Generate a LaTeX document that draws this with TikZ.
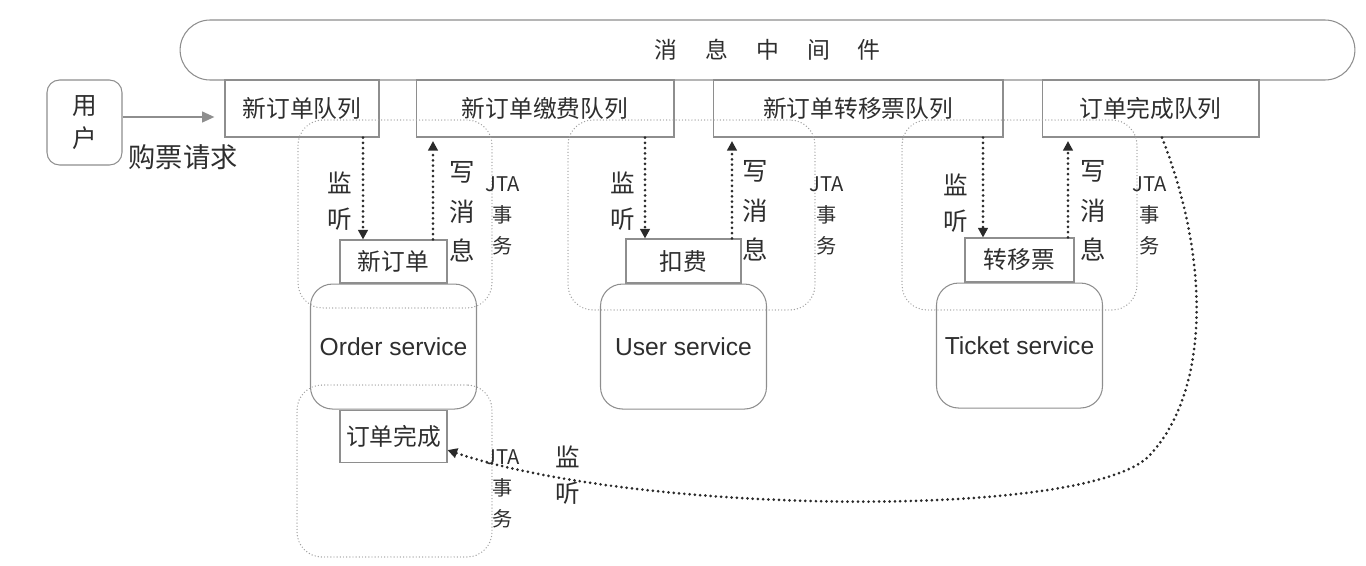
\documentclass[tikz,border=0pt]{standalone}
\usepackage{fontspec}
\setmainfont{Noto Sans CJK SC}
\newfontfamily\latin{Liberation Sans}
\usetikzlibrary{positioning,arrows.meta}
\definecolor{boxgray}{HTML}{8E8E8E}
\definecolor{txtgray}{HTML}{2E2E2E}
\definecolor{dotgray}{HTML}{A0A0A0}
\definecolor{arrowdark}{HTML}{2A2A2A}

\begin{document}
\begin{tikzpicture}[x=0.02cm,y=-0.02cm,
  every node/.style={text=txtgray},
  box/.style={draw=boxgray,line width=0.6pt,inner sep=0pt},
  queue/.style={box,minimum height=1.14cm,font=\fontsize{13.5}{16}\selectfont},
  func/.style={box,font=\fontsize{13.5}{16}\selectfont},
  service/.style={box,rounded corners=0.44cm,minimum width=3.32cm,minimum height=2.5cm,font=\latin\fontsize{14}{17}\selectfont},
  txgroup/.style={draw=dotgray,dash pattern=on 0pt off 1.8pt,line cap=round,line width=0.8pt,rounded corners=0.5cm,inner sep=0pt},
  lbl/.style={align=center,font=\fontsize{14}{20.5}\selectfont},
  jta/.style={align=center,font=\fontsize{11.5}{17.5}\selectfont},
  listen/.style={draw=arrowdark,line width=1.7pt,dash pattern=on 0pt off 3pt,line cap=round,-{Triangle[length=5.5pt,width=5.5pt]}}
]
  \useasboundingbox (0,0) rectangle (1366,565);

  \node at (767.5,50) [box,rounded corners=0.6cm,minimum width=23.5cm,minimum height=1.2cm,font=\fontsize{13}{16}\selectfont] (mq) {消\hspace{16pt}息\hspace{16pt}中\hspace{16pt}间\hspace{16pt}件};

  \node at (84.5,122.5) [box,rounded corners=0.25cm,minimum width=1.5cm,minimum height=1.7cm,align=center,font=\fontsize{14}{19}\selectfont] (user) {用\\户};

  \node at (302,108.5) [queue,minimum width=3.08cm] (qnew) {新订单队列};
  \node at (545,108.5) [queue,minimum width=5.16cm] (qpay) {新订单缴费队列};
  \node at (858,108.5) [queue,minimum width=5.8cm] (qmove) {新订单转移票队列};
  \node at (1150.5,108.5) [queue,minimum width=4.34cm] (qdone) {订单完成队列};

  \node at (395,214) [txgroup,minimum width=3.88cm,minimum height=3.76cm] (txorder) {};
  \node at (691.5,215) [txgroup,minimum width=4.94cm,minimum height=3.8cm] (txuser) {};
  \node at (1019.5,215) [txgroup,minimum width=4.7cm,minimum height=3.8cm] (txticket) {};
  \node at (394.5,471) [txgroup,minimum width=3.9cm,minimum height=3.44cm] (txdone) {};

  \node at (393.5,261.5) [func,minimum width=2.14cm,minimum height=0.86cm] (neworder) {新订单};
  \node at (683.5,261) [func,minimum width=2.3cm,minimum height=0.88cm] (charge) {扣费};
  \node at (1019.5,260) [func,minimum width=2.18cm,minimum height=0.88cm] (moveticket) {转移票};

  \node [service,below=0pt of neworder] (ordersvc) {Order service};
  \node [service,below=0pt of charge] (usersvc) {User service};
  \node [service,below=0pt of moveticket] (ticketsvc) {Ticket service};

  \node [func,below=0pt of ordersvc,minimum width=2.14cm,minimum height=1.04cm] (orderdone) {订单完成};

  \draw[draw=boxgray,line width=1.3pt,-{Triangle[length=7pt,width=6pt]},shorten >=0.2cm] ([yshift=0.11cm]user.east) -- ([yshift=0.11cm]user.east -| qnew.west);
  \node at (183,157) [lbl,font=\fontsize{15.5}{18}\selectfont] (request) {购票请求};

  \draw[listen] ([xshift=-0.61cm]neworder.north |- qnew.south) -- ([xshift=-0.61cm]neworder.north);
  \draw[listen,shorten >=2pt] ([xshift=0.79cm]neworder.north) -- ([xshift=0.79cm]neworder.north |- qpay.south);
  \draw[listen] ([xshift=-0.77cm]charge.north |- qpay.south) -- ([xshift=-0.77cm]charge.north);
  \draw[listen,shorten >=2pt] ([xshift=0.97cm]charge.north) -- ([xshift=0.97cm]charge.north |- qmove.south);
  \draw[listen] ([xshift=-0.73cm]moveticket.north |- qmove.south) -- ([xshift=-0.73cm]moveticket.north);
  \draw[listen,shorten >=2pt] ([xshift=0.97cm]moveticket.north) -- ([xshift=0.97cm]moveticket.north |- qdone.south);
  \draw[listen] ([xshift=0.23cm]qdone.south) .. controls (1210,260) and (1210,390) .. (1150,455) .. controls (1090,520) and (640,515) .. ([yshift=-0.28cm]orderdone.east);

  \node at (340,201) [lbl] (listen1) {监\\听};
  \node at (462,212) [lbl,font=\fontsize{14.5}{22.5}\selectfont] (write1) {写\\消\\息};
  \node at (503,216) [jta] (jta1) {JTA\\事\\务};

  \node at (623,201) [lbl] (listen2) {监\\听};
  \node at (755,211) [lbl,font=\fontsize{14.5}{22.5}\selectfont] (write2) {写\\消\\息};
  \node at (827,216) [jta] (jta2) {JTA\\事\\务};

  \node at (956,203) [lbl] (listen3) {监\\听};
  \node at (1093,211) [lbl,font=\fontsize{14.5}{22.5}\selectfont] (write3) {写\\消\\息};
  \node at (1150,216) [jta] (jta3) {JTA\\事\\务};

  \node at (568,475) [lbl] (listen4) {监\\听};
  \node at (503,489) [jta] (jta4) {JTA\\事\\务};
\end{tikzpicture}
\end{document}
